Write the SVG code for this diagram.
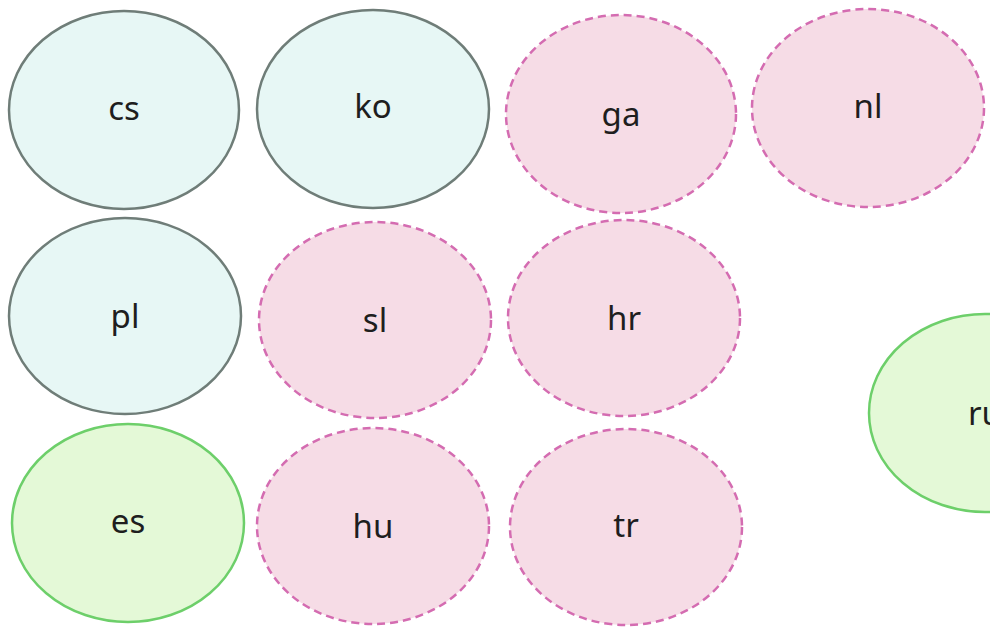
<svg xmlns="http://www.w3.org/2000/svg" width="990" height="628" viewBox="0 0 990 628">
  <style>
    .blue ellipse { fill: #e7f7f5; stroke: #6f7d78; stroke-width: 2.5; }
    .pink ellipse { fill: #f6dce6; stroke: #d46cb1; stroke-width: 2.5; stroke-dasharray: 8 5; }
    .green ellipse { fill: #e4f9d7; stroke: #6dcf6a; stroke-width: 2.5; }
    text { font-family: "Noto Sans", "Open Sans", sans-serif; font-size: 33px; fill: #1e1e1e; text-anchor: middle; dominant-baseline: central; }
  </style>
  <rect width="990" height="628" fill="#ffffff"/>
  <g id="connectors"></g>
  <g id="node-cs" class="blue"><ellipse cx="124" cy="110" rx="115" ry="99"/><text x="124" y="107">cs</text></g>
  <g id="node-ko" class="blue"><ellipse cx="373" cy="109" rx="116" ry="99"/><text x="373" y="105">ko</text></g>
  <g id="node-ga" class="pink"><ellipse cx="621" cy="114" rx="115" ry="99"/><text x="621" y="113">ga</text></g>
  <g id="node-nl" class="pink"><ellipse cx="868" cy="108" rx="116" ry="99"/><text x="868" y="105">nl</text></g>
  <g id="node-pl" class="blue"><ellipse cx="125" cy="316" rx="116" ry="98"/><text x="125" y="315">pl</text></g>
  <g id="node-sl" class="pink"><ellipse cx="375" cy="320" rx="116" ry="98"/><text x="375" y="319">sl</text></g>
  <g id="node-hr" class="pink"><ellipse cx="624" cy="318" rx="116" ry="98"/><text x="624" y="317">hr</text></g>
  <g id="node-ru" class="green"><ellipse cx="985" cy="413" rx="116" ry="99"/><text x="985" y="412">ru</text></g>
  <g id="node-es" class="green"><ellipse cx="128" cy="523" rx="116" ry="99"/><text x="128" y="520">es</text></g>
  <g id="node-hu" class="pink"><ellipse cx="373" cy="526" rx="116" ry="98"/><text x="373" y="525">hu</text></g>
  <g id="node-tr" class="pink"><ellipse cx="626" cy="527" rx="116" ry="98"/><text x="626" y="524">tr</text></g>
</svg>
